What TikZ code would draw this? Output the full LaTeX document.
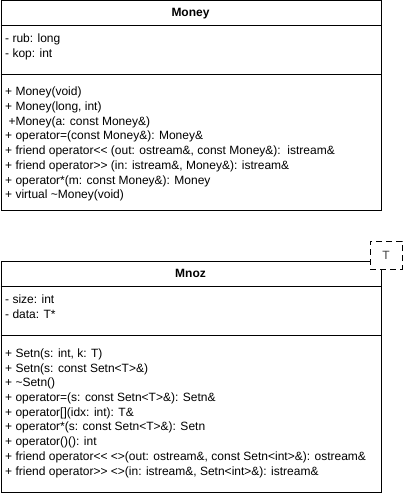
\documentclass[tikz,border=0pt]{standalone}
\usepackage{fontspec}
\setmainfont{Liberation Sans}
\begin{document}
\begin{tikzpicture}[x=1pt,y=-1pt,
  classbox/.style={draw=black, line width=1pt, anchor=north west, inner sep=0pt, minimum width=380pt},
  sep/.style={draw=black, line width=1pt},
  title/.style={font=\fontsize{12}{14}\selectfont\bfseries, inner sep=0pt},
  members/.style={anchor=north west, align=left, inner sep=0pt, font=\fontsize{12}{14.7}\selectfont},
  tparam/.style={draw=black, dashed, dash pattern=on 6pt off 4pt, line width=1pt, fill=white, minimum width=32pt, minimum height=28pt, inner sep=0pt, anchor=north west, font=\fontsize{12}{14}\selectfont, text=black!75}]
\useasboundingbox (0,0) rectangle (402,494);
% ---------- Money ----------
\node[classbox, minimum height=209.5pt] (money) at (0.5,0.5) {};
\coordinate (m1l) at (0.5,26); \coordinate (m1r) at (380.5,26);
\coordinate (m2l) at (0.5,75); \coordinate (m2r) at (380.5,75);
\draw[sep] (m1l) -- (m1r);
\draw[sep] (m2l) -- (m2r);
\node[title] (moneyname) at (190.5,13.5) {Money};
\node[members] (moneyattr) at (5,33.5) {- rub: long\\- kop: int};
\node[members] (moneyops) at (5,87) {+ Money(void)\\
+ Money(long, int)\\
\ +Money(a: const Money\&)\\
+ operator=(const Money\&): Money\&\\
+ friend operator<{}< (out: ostream\&, const Money\&):\ \ istream\&\\
+ friend operator>{}> (in: istream\&, Money\&): istream\&\\
+ operator*(m: const Money\&): Money\\
+ virtual \textasciitilde Money(void)};
% ---------- Mnoz ----------
\node[classbox, minimum height=231.5pt] (mnoz) at (0.5,260.5) {};
\coordinate (n1l) at (0.5,286); \coordinate (n1r) at (380.5,286);
\coordinate (n2l) at (0.5,335); \coordinate (n2r) at (380.5,335);
\draw[sep] (n1l) -- (n1r);
\draw[sep] (n2l) -- (n2r);
\node[title] (mnozname) at (190.5,273.5) {Mnoz};
\node[members] (mnozattr) at (5,295) {- size: int\\- data: T*};
\node[members] (mnozops) at (5,348.5) {+ Setn(s: int, k: T)\\
+ Setn(s: const Setn<T>\&)\\
+ \textasciitilde Setn()\\
+ operator=(s: const Setn<T>\&): Setn\&\\
+ operator[](idx: int): T\&\\
+ operator*(s: const Setn<T>\&): Setn\\
+ operator()(): int\\
+ friend operator<{}< <>(out: ostream\&, const Setn<int>\&): ostream\&\\
+ friend operator>{}> <>(in: istream\&, Setn<int>\&): istream\&};
\node[tparam] (tpar) at (369.5,240.5) {T};
\end{tikzpicture}
\end{document}
